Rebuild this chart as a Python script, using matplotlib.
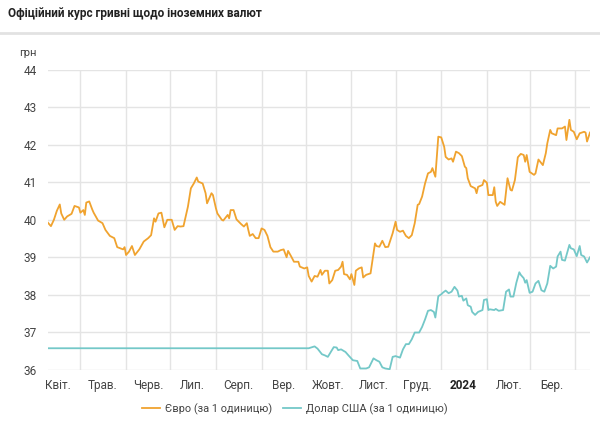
import matplotlib
matplotlib.use("Agg")
import matplotlib.pyplot as plt
import matplotlib.dates as mdates
import pandas as pd

# ---------------- data ----------------
eur_dates = [
    "2023-04-09","2023-04-11","2023-04-13","2023-04-15","2023-04-17","2023-04-18","2023-04-20","2023-04-22","2023-04-25","2023-04-27","2023-04-30",
    "2023-05-01","2023-05-03","2023-05-04","2023-05-05","2023-05-07","2023-05-09","2023-05-10","2023-05-13","2023-05-16","2023-05-18","2023-05-21","2023-05-24","2023-05-26","2023-05-30","2023-05-31",
    "2023-06-01","2023-06-03","2023-06-05","2023-06-07","2023-06-10","2023-06-13","2023-06-16","2023-06-18","2023-06-20","2023-06-21","2023-06-23","2023-06-25","2023-06-27","2023-06-29",
    "2023-07-02","2023-07-04","2023-07-06","2023-07-08","2023-07-10","2023-07-12","2023-07-13","2023-07-15","2023-07-17","2023-07-19","2023-07-20","2023-07-23","2023-07-25","2023-07-26","2023-07-29","2023-07-30",
    "2023-08-01","2023-08-02","2023-08-05","2023-08-06","2023-08-09","2023-08-10","2023-08-11","2023-08-13","2023-08-15","2023-08-18","2023-08-20","2023-08-22","2023-08-23","2023-08-24","2023-08-26","2023-08-28","2023-08-30",
    "2023-09-01","2023-09-03","2023-09-05","2023-09-07","2023-09-09","2023-09-12","2023-09-14","2023-09-16","2023-09-18","2023-09-19","2023-09-21","2023-09-23","2023-09-26","2023-09-27","2023-09-30",
    "2023-10-02","2023-10-03","2023-10-05","2023-10-07","2023-10-09","2023-10-11","2023-10-12","2023-10-14","2023-10-16","2023-10-17","2023-10-19","2023-10-21","2023-10-23","2023-10-25","2023-10-26","2023-10-27","2023-10-29","2023-10-31",
    "2023-11-01","2023-11-03","2023-11-04","2023-11-06","2023-11-08","2023-11-09","2023-11-11","2023-11-14","2023-11-17","2023-11-18","2023-11-20","2023-11-22","2023-11-24","2023-11-26","2023-11-29",
    "2023-12-01","2023-12-02","2023-12-04","2023-12-06","2023-12-08","2023-12-10","2023-12-12","2023-12-14","2023-12-16","2023-12-17","2023-12-19","2023-12-21","2023-12-23","2023-12-25","2023-12-26","2023-12-28","2023-12-29","2023-12-30",
    "2024-01-01","2024-01-03","2024-01-04","2024-01-06","2024-01-08","2024-01-09","2024-01-11","2024-01-13","2024-01-15","2024-01-17","2024-01-18","2024-01-19","2024-01-21","2024-01-24","2024-01-25","2024-01-26","2024-01-29","2024-01-30",
    "2024-02-01","2024-02-02","2024-02-05","2024-02-06","2024-02-07","2024-02-08","2024-02-10","2024-02-13","2024-02-15","2024-02-17","2024-02-18","2024-02-20","2024-02-22","2024-02-24","2024-02-26","2024-02-27","2024-02-28",
    "2024-03-01","2024-03-04","2024-03-05","2024-03-07","2024-03-09","2024-03-10","2024-03-12","2024-03-13","2024-03-15","2024-03-16","2024-03-19","2024-03-20","2024-03-23","2024-03-25","2024-03-26","2024-03-28","2024-03-29","2024-03-31",
    "2024-04-02","2024-04-04","2024-04-07","2024-04-08","2024-04-09","2024-04-11",
]
eur_values = [
    39.92,39.83,40.00,40.24,40.41,40.17,40.00,40.09,40.16,40.37,40.33,
    40.19,40.26,40.13,40.46,40.49,40.28,40.19,39.98,39.91,39.73,39.57,39.51,39.27,39.21,39.27,
    39.06,39.15,39.30,39.06,39.21,39.42,39.51,39.59,40.04,39.95,40.17,40.19,39.80,40.00,
    40.00,39.73,39.83,39.82,39.83,40.17,40.35,40.84,40.97,41.13,41.02,40.97,40.71,40.44,40.71,40.66,
    40.31,40.17,40.00,39.98,40.13,40.04,40.26,40.26,40.01,39.89,39.82,39.91,39.73,39.57,39.62,39.51,39.51,
    39.77,39.73,39.57,39.27,39.15,39.15,39.19,39.21,39.00,39.17,39.03,38.88,38.88,38.75,38.70,
    38.73,38.50,38.35,38.50,38.48,38.66,38.53,38.64,38.64,38.30,38.39,38.64,38.66,38.75,38.88,38.55,38.53,38.41,
    38.55,38.26,38.64,38.70,38.73,38.46,38.53,38.57,39.37,39.30,39.28,39.44,39.27,39.28,39.64,
    39.95,39.73,39.68,39.71,39.57,39.51,39.59,39.91,40.40,40.42,40.62,40.97,41.24,41.28,41.38,41.15,41.68,42.22,
    42.20,41.95,41.68,41.61,41.64,41.55,41.82,41.78,41.70,41.42,41.38,41.11,40.90,40.84,40.71,40.88,40.93,41.06,
    40.99,40.66,40.66,40.87,40.48,40.37,40.48,40.40,41.11,40.80,40.78,41.06,41.67,41.76,41.73,41.55,41.73,
    41.28,41.20,41.24,41.61,41.51,41.46,41.78,42.04,42.40,42.31,42.26,42.44,42.44,42.49,42.13,42.67,42.40,42.35,
    42.15,42.31,42.35,42.33,42.09,42.33,
]

usd_dates = [
    "2023-04-09","2023-10-03","2023-10-07","2023-10-09","2023-10-12","2023-10-14","2023-10-16","2023-10-18","2023-10-20","2023-10-22","2023-10-23","2023-10-25","2023-10-28","2023-10-30",
    "2023-11-02","2023-11-05","2023-11-07","2023-11-11","2023-11-13","2023-11-16","2023-11-18","2023-11-20","2023-11-22","2023-11-24","2023-11-27","2023-11-29",
    "2023-12-01","2023-12-04","2023-12-06","2023-12-08","2023-12-10","2023-12-12","2023-12-14","2023-12-17","2023-12-19","2023-12-21","2023-12-23","2023-12-25","2023-12-27","2023-12-28","2023-12-30",
    "2024-01-01","2024-01-02","2024-01-04","2024-01-06","2024-01-08","2024-01-10","2024-01-12","2024-01-13","2024-01-15","2024-01-16","2024-01-18","2024-01-19","2024-01-21","2024-01-22","2024-01-24","2024-01-26","2024-01-29","2024-01-30",
    "2024-02-01","2024-02-02","2024-02-03","2024-02-06","2024-02-07","2024-02-09","2024-02-12","2024-02-14","2024-02-16","2024-02-17","2024-02-19","2024-02-21","2024-02-23","2024-02-24","2024-02-26","2024-02-27","2024-02-28",
    "2024-03-01","2024-03-03","2024-03-05","2024-03-07","2024-03-09","2024-03-11","2024-03-13","2024-03-15","2024-03-17","2024-03-19","2024-03-20","2024-03-22","2024-03-23","2024-03-25","2024-03-28","2024-03-29","2024-03-31",
    "2024-04-02","2024-04-04","2024-04-05","2024-04-07","2024-04-09","2024-04-11",
]
usd_values = [
    36.57,36.57,36.62,36.56,36.41,36.38,36.34,36.47,36.60,36.59,36.52,36.54,36.47,36.38,
    36.25,36.23,36.03,36.03,36.06,36.30,36.25,36.21,36.06,36.03,36.01,36.34,
    36.36,36.32,36.54,36.68,36.68,36.81,36.99,36.99,37.14,37.34,37.57,37.59,37.54,37.39,37.96,
    38.01,38.05,38.11,38.04,38.08,38.21,38.11,37.95,37.97,37.84,37.90,37.72,37.68,37.54,37.46,37.54,37.59,37.86,
    37.88,37.59,37.61,37.59,37.62,37.57,37.59,38.08,38.14,37.95,37.95,38.32,38.60,38.53,38.44,38.32,38.39,
    38.05,38.08,38.30,38.37,38.12,38.08,38.30,38.77,38.70,38.75,39.02,39.15,38.93,38.91,39.33,39.24,39.21,
    39.03,39.30,39.06,39.02,38.86,39.00,
]

month_labels = ["Квіт.", "Трав.", "Черв.", "Лип.", "Серп.", "Вер.", "Жовт.",
                "Лист.", "Груд.", "2024", "Лют.", "Бер."]
y_ticks = [36, 37, 38, 39, 40, 41, 42, 43, 44]

title = "Офіційний курс гривні щодо іноземних валют"
unit = "грн"
eur_name = "Євро (за 1 одиницю)"
usd_name = "Долар США (за 1 одиницю)"

# ---------------- plot ----------------
plt.rcParams['font.family'] = ['Roboto', 'DejaVu Sans']

EUR_C = "#F0A32F"
USD_C = "#74C8C8"
GRID_C = "#E4E4E4"
TXT_C = "#444444"

fig = plt.figure(figsize=(6.0, 4.23), dpi=100)
ax = fig.add_axes([48/600, 1 - 369.6/423, (590 - 48)/600, (369.6 - 70)/423])

ed = pd.to_datetime(eur_dates)
ud = pd.to_datetime(usd_dates)
ax.plot(ed, eur_values, color=EUR_C, lw=1.3, label=eur_name, zorder=3)
ax.plot(ud, usd_values, color=USD_C, lw=1.3, label=usd_name, zorder=3)

ax.set_xlim(ed.min(), ed.max())
ax.set_ylim(36, 44)
ax.set_yticks(y_ticks)
ax.set_yticklabels([str(v) for v in y_ticks])

month_starts = pd.date_range("2023-05-01", "2024-04-01", freq="MS")
ax.set_xticks(month_starts)
ax.set_xticklabels([])
mids = pd.date_range("2023-04-01", "2024-03-01", freq="MS") + pd.Timedelta(days=15)
ax.set_xticks(mids, minor=True)
ax.set_xticklabels(month_labels, minor=True)
for lbl in ax.get_xticklabels(minor=True):
    if lbl.get_text() == "2024":
        lbl.set_fontweight("bold")
        lbl.set_color("#222222")
    else:
        lbl.set_color(TXT_C)

ax.tick_params(axis='x', which='both', length=0, pad=7, labelsize=8.5)
ax.tick_params(axis='y', length=0, pad=8, labelsize=8.5, labelcolor=TXT_C)
ax.grid(True, which='major', color=GRID_C, lw=1)
ax.set_axisbelow(True)
for s in ax.spines.values():
    s.set_visible(False)

fig.text(8/600, 1 - 13/423, title, fontsize=8.5, fontweight='bold', color="#222222",
         ha='left', va='center')
fig.add_artist(plt.Line2D([0, 1], [1 - 33/423, 1 - 33/423], color="#E2E2E2", lw=2))
fig.text(37/600, 1 - 53/423, unit, fontsize=8, color=TXT_C, ha='right', va='center')

fig.legend(loc='center', bbox_to_anchor=(0.492, 1 - 409/423), ncol=2, frameon=False,
           fontsize=7.9, handlelength=1.6, columnspacing=1.0, handletextpad=0.5,
           labelcolor=TXT_C)

fig.savefig("out.png", dpi=100, facecolor="white")
